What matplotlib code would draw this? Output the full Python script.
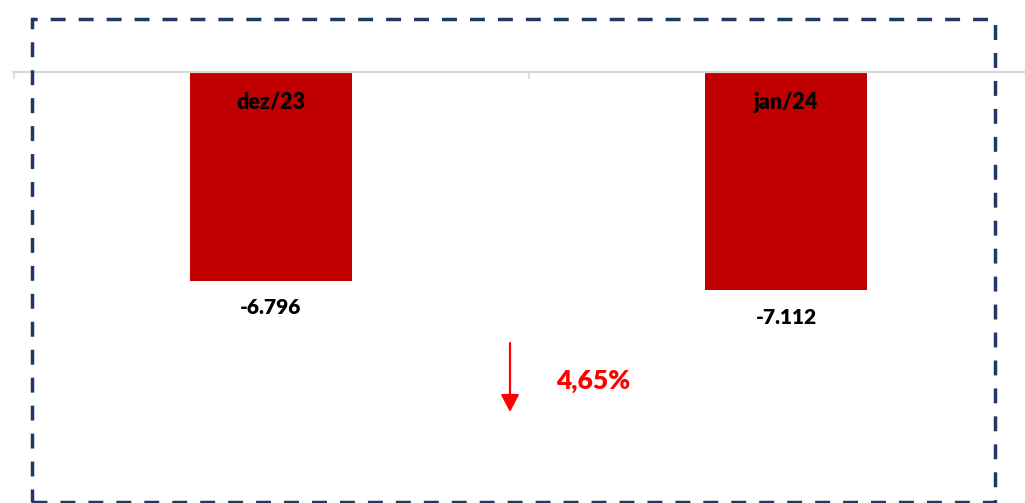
import matplotlib.pyplot as plt
import matplotlib.patches as patches

# dados
meses = ['dez/23', 'jan/24']
saldo = [-6796, -7112]

cor_barra = '#c00000'
cor_moldura = '#203864'

plt.rcParams['font.family'] = ['Lato', 'DejaVu Sans']

fig = plt.figure(figsize=(10.25, 5.03), dpi=100)
ax = fig.add_axes([13 / 1025, 0, 1012 / 1025, 431 / 503])

x = list(range(len(meses)))
barras = ax.bar(x, saldo, width=0.315, color=cor_barra)

# eixo em cima com marcas entre as categorias
for s in ['left', 'right', 'bottom']:
    ax.spines[s].set_visible(False)
ax.spines['top'].set_color('#d9d9d9')
ax.spines['top'].set_linewidth(1.6)
ax.xaxis.set_ticks_position('top')
ax.set_xticks([-0.5, 0.5, 1.5])
ax.tick_params(axis='x', direction='in', length=5, width=1.2, color='#d9d9d9', labeltop=False)
ax.set_yticks([])

ax.set_xlim(-0.501, 1.464)
ax.set_ylim(-14040, 0)

for i, v in enumerate(saldo):
    ax.annotate(meses[i], (x[i], 0), xytext=(0, -21.6), textcoords='offset points',
                ha='center', va='center', fontsize=15.5, fontweight='heavy', color='black')
    rotulo = f"{v:,.0f}".replace(',', '.')
    ax.annotate(rotulo, (x[i], v), xytext=(0, -19.4), textcoords='offset points',
                ha='center', va='center', fontsize=15, fontweight='heavy', color='black')

# variacao percentual
var = (saldo[1] - saldo[0]) / abs(saldo[0]) * 100
txt_var = f"{abs(var):.2f}".replace('.', ',') + '%'
ax.annotate('', xy=(510 / 1025, 1 - 412 / 503), xytext=(510 / 1025, 1 - 343 / 503),
            xycoords='figure fraction', textcoords='figure fraction',
            arrowprops=dict(arrowstyle='-|>,head_width=0.55,head_length=1.05',
                            color='#ff0000', lw=1.6, shrinkA=0, shrinkB=0))
fig.text(556 / 1025, 1 - 381 / 503, txt_var, ha='left', va='center',
         fontsize=19, fontweight='heavy', color='#ff0000')

# moldura tracejada
moldura = patches.Rectangle((32 / 1025, 0.001), (995 - 32) / 1025, (503 - 19) / 503 - 0.001,
                            transform=fig.transFigure, fill=False, edgecolor=cor_moldura,
                            linewidth=2.5, linestyle=(0, (4.3, 3.75)), clip_on=False)
fig.add_artist(moldura)

fig.savefig('out.png', dpi=100)
